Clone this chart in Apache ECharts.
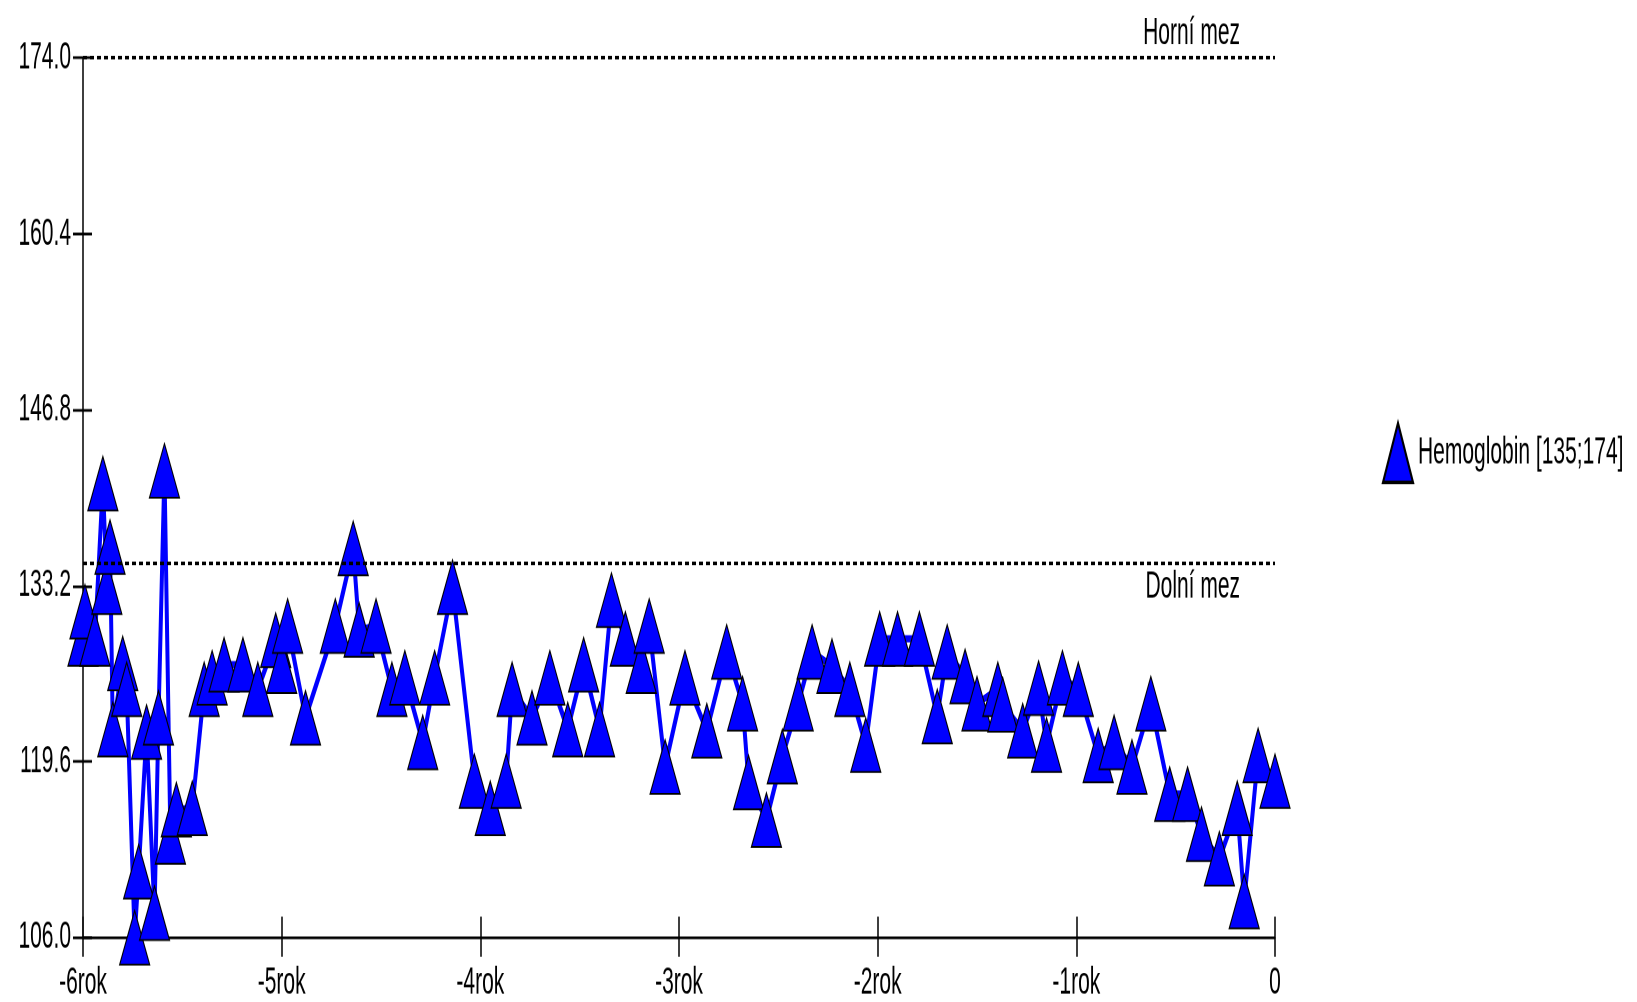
<!DOCTYPE html>
<html>
<head>
<meta charset="utf-8">
<script src="https://cdn.jsdelivr.net/npm/echarts@6/dist/echarts.min.js"></script>
<style>
  html, body { margin: 0; padding: 0; background: #fff; overflow: hidden; }
  #wrap { width: 1637px; height: 1002px; overflow: hidden; }
  /* the old chart is stretched vertically, so draw it squat and stretch it */
  #chart { width: 1637px; height: 556.67px; transform: scaleY(1.8); transform-origin: 0 0; }
</style>
</head>
<body>
<div id="wrap"><div id="chart"></div></div>
<script>
// time in years before now
var years = [-6.00, -5.99, -5.94, -5.90, -5.88, -5.864, -5.85, -5.80, -5.78, -5.74,
  -5.72, -5.68, -5.64, -5.62, -5.59, -5.56, -5.53, -5.45, -5.39, -5.35,
  -5.29, -5.195, -5.12, -5.03, -5.00, -4.97, -4.88, -4.73, -4.64, -4.61,
  -4.525, -4.445, -4.38, -4.29, -4.23, -4.14, -4.03, -3.95, -3.87, -3.84,
  -3.74, -3.65, -3.56, -3.48, -3.40, -3.34, -3.27, -3.19, -3.15, -3.07,
  -2.97, -2.86, -2.76, -2.68, -2.65, -2.56, -2.48, -2.40, -2.33, -2.23,
  -2.14, -2.06, -1.99, -1.90, -1.79, -1.70, -1.65, -1.56, -1.50, -1.395,
  -1.37, -1.27, -1.19, -1.15, -1.07, -0.99, -0.89, -0.81, -0.72, -0.625,
  -0.53, -0.44, -0.37, -0.28, -0.19, -0.155, -0.085, 0];
var hemoglobin = [129.1, 131.2, 129.1, 141.1, 133.1, 136.2, 122.1, 127.2, 125.2, 106.0,
  111.1, 121.9, 107.9, 123.0, 142.1, 113.8, 115.9, 116.0, 125.2, 126.1,
  127.1, 127.1, 125.2, 129.0, 127.0, 130.1, 123.0, 130.1, 136.1, 129.8,
  130.1, 125.2, 126.1, 121.1, 126.1, 133.1, 118.1, 116.0, 118.1, 125.2,
  123.0, 126.1, 122.1, 127.1, 122.1, 132.1, 129.1, 127.0, 130.1, 119.2,
  126.1, 122.0, 128.1, 124.1, 118.0, 115.1, 120.0, 124.1, 128.1, 127.0,
  125.2, 120.9, 129.1, 129.1, 129.1, 123.1, 128.1, 126.2, 124.1, 125.2,
  124.0, 122.0, 125.3, 120.9, 126.1, 125.2, 120.1, 121.1, 119.2, 124.1,
  117.1, 117.1, 114.0, 112.1, 116.0, 108.8, 120.1, 118.1];
var yTicks = [106.0, 119.6, 133.2, 146.8, 160.4, 174.0];
var xTickLabels = ['-6rok', '-5rok', '-4rok', '-3rok', '-2rok', '-1rok', '0'];
var limitNames = ['Horní mez', 'Dolní mez'];
var limitValues = [174, 135];
var seriesName = 'Hemoglobin [135;174]';

var font = "'Liberation Sans', Arial, sans-serif";
var points = years.map(function (t, i) { return [t, hemoglobin[i]]; });

var chart = echarts.init(document.getElementById('chart'), null, {devicePixelRatio: 2});
var xBase = {
  type: 'value', min: -6, max: 0, interval: 1,
  splitLine: {show: false}
};
var yBase = {
  type: 'value', min: 106, max: 174, interval: 13.6,
  position: 'left',
  splitLine: {show: false}
};
chart.setOption({
  animation: false,
  backgroundColor: '#fff',
  grid: {left: 83, right: 362, top: 32.22, bottom: 36.11},
  legend: {
    left: 1377, top: 229, orient: 'vertical',
    icon: 'triangle', itemWidth: 30, itemHeight: 33, itemGap: 4,
    textStyle: {fontFamily: font, fontSize: 21, color: '#000'},
    data: [seriesName]
  },
  xAxis: [
    Object.assign({}, xBase, {
      axisLine: {onZero: false, lineStyle: {color: '#000', width: 1.5}},
      axisTick: {length: 10.6, lineStyle: {color: '#000', width: 1.5}},
      axisLabel: {
        margin: 15, fontFamily: font, fontSize: 21, color: '#000',
        formatter: function (v) { return xTickLabels[Math.round(v) + 6]; }
      }
    }),
    Object.assign({}, xBase, {
      position: 'bottom',
      axisLine: {show: false, onZero: false},
      axisTick: {inside: true, length: 11.7, lineStyle: {color: '#000', width: 1.5}},
      axisLabel: {show: false}
    })
  ],
  yAxis: [
    Object.assign({}, yBase, {
      axisLine: {show: true, onZero: false, lineStyle: {color: '#000', width: 1.5}},
      axisTick: {show: true, length: 10, customValues: yTicks, lineStyle: {color: '#000', width: 1.5}},
      axisLabel: {
        margin: 12, fontFamily: font, fontSize: 21, color: '#000',
        customValues: yTicks,
        formatter: function (v) { return v.toFixed(1); }
      }
    }),
    Object.assign({}, yBase, {
      axisLine: {show: false, onZero: false},
      axisTick: {show: true, inside: true, length: 9, customValues: yTicks, lineStyle: {color: '#000', width: 1.5}},
      axisLabel: {show: false}
    })
  ],
  series: [{
    name: seriesName,
    type: 'line',
    data: points,
    clip: false,
    showAllSymbol: true,
    symbol: 'triangle',
    symbolSize: 30,
    itemStyle: {color: '#0000ff', borderColor: '#000', borderWidth: 1},
    lineStyle: {color: '#0000ff', width: 4},
    emphasis: {disabled: true},
    markLine: {
      silent: true,
      symbol: ['none', 'none'],
      lineStyle: {color: '#000', type: [4, 3], width: 2},
      label: {
        formatter: '{b}', fontFamily: font, fontSize: 21, color: '#000',
        padding: [0, 32, 0, 0], distance: 3
      },
      data: [
        {name: limitNames[0], yAxis: limitValues[0], label: {position: 'insideEndTop'}},
        {name: limitNames[1], yAxis: limitValues[1], label: {position: 'insideEndBottom'}}
      ]
    }
  }]
});
</script>
</body>
</html>
